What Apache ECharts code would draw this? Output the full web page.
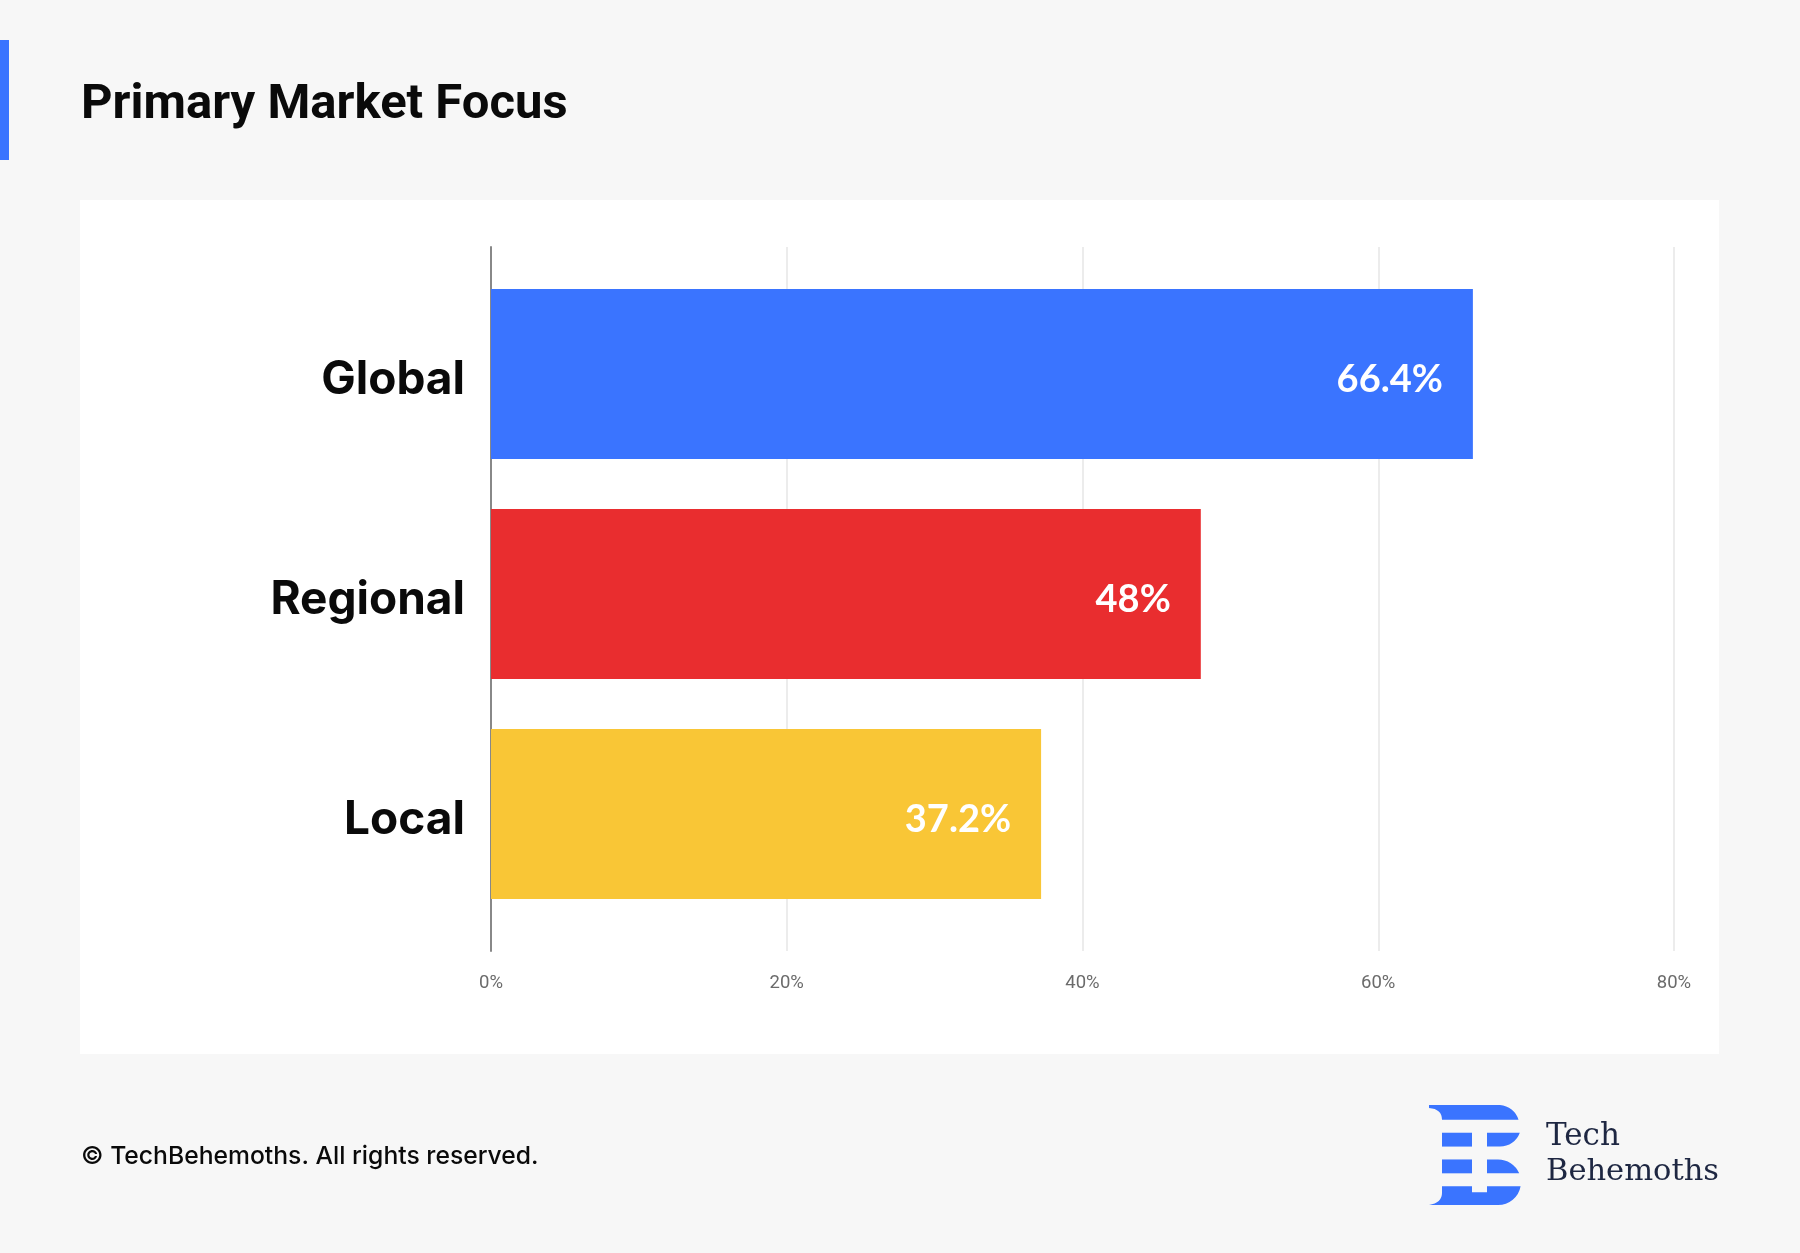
<!DOCTYPE html>
<html>
<head>
<meta charset="utf-8">
<title>Primary Market Focus</title>
<script src="https://cdn.jsdelivr.net/npm/echarts@6/dist/echarts.min.js"></script>
<style>
  html, body { margin: 0; padding: 0; background: #f7f7f7; }
  #grafico { width: 1800px; height: 1253px; }
</style>
</head>
<body>
<div id="grafico"></div>
<script>
// data
var categorias = ['Global', 'Regional', 'Local'];
var valores = [66.4, 48, 37.2];
var cores = ['#3a74ff', '#e92d2f', '#f9c636'];
var ticks_x = [0, 20, 40, 60, 80];

var myChart = echarts.init(document.getElementById('grafico'));

var dados_barras = [];
categorias.forEach(function (item, i) {
    dados_barras.push({
        value: valores[i],
        itemStyle: { color: cores[i] }
    });
});

// logo "B" feito de faixas (svg inline)
var logo_svg = '<svg xmlns="http://www.w3.org/2000/svg" width="93" height="101" viewBox="0 0 93 101"><g fill="#3a74ff">' +
    '<path d="M0,0 L71,0 A21,21 0 0 1 89.5,15 L13,15 Q13,4 0,3 Z"/>' +
    '<path d="M13,28 L43,28 L43,42 L13,42 Z"/>' +
    '<path d="M58,28 L90.8,28 A21,21 0 0 1 71,42 L58,42 Z"/>' +
    '<path d="M13,55 L43,55 L43,69 L13,69 Z"/>' +
    '<path d="M58,55 L69,55 A23,23 0 0 1 90.2,69 L58,69 Z"/>' +
    '<path d="M13,82 L43,82 L43,88 L58,88 L58,82 L91.6,82 A23,23 0 0 1 69,101 L0,101 Q13,99 13,89 Z"/>' +
    '</g></svg>';

var option = {
    backgroundColor: '#f7f7f7',
    animation: false,
    textStyle: { fontFamily: 'Inter, Roboto, sans-serif' },
    graphic: [
        { type: 'rect', z: -10, shape: { x: 80, y: 200, width: 1639, height: 854 }, style: { fill: '#ffffff' } },
        { type: 'rect', shape: { x: 0, y: 40, width: 9, height: 120 }, style: { fill: '#3a74ff' } },
        {
            type: 'text', x: 81, y: 106,
            style: {
                text: 'Primary Market Focus', fill: '#0a0a0a',
                font: 'bold 49px Roboto, sans-serif', textVerticalAlign: 'middle'
            }
        },
        {
            type: 'text', x: 81, y: 1157,
            style: {
                text: '© TechBehemoths. All rights reserved.', fill: '#0a0a0a',
                font: '500 24.7px Inter, sans-serif', textVerticalAlign: 'middle'
            }
        },
        {
            type: 'image', x: 1429, y: 1105,
            style: {
                image: 'data:image/svg+xml;charset=utf-8,' + encodeURIComponent(logo_svg),
                width: 93, height: 100
            }
        },
        {
            type: 'text', x: 1546, y: 1137,
            style: {
                text: 'Tech', fill: '#1e2742',
                font: '31px "DejaVu Serif", serif', textVerticalAlign: 'middle'
            }
        },
        {
            type: 'text', x: 1546, y: 1172,
            style: {
                text: 'Behemoths', fill: '#1e2742',
                font: '30.5px "DejaVu Serif", serif', textVerticalAlign: 'middle'
            }
        }
    ],
    grid: [
        { left: 491, right: 126, top: 247, bottom: 302 },
        { left: 491, right: 126, top: 264, bottom: 329 }
    ],
    xAxis: [
        {
            gridIndex: 0,
            type: 'value',
            min: ticks_x[0],
            max: ticks_x[ticks_x.length - 1],
            interval: 20,
            axisLine: { show: false },
            axisTick: { show: false },
            splitLine: { lineStyle: { color: '#ececec', width: 2 } },
            axisLabel: {
                formatter: '{value}%',
                color: '#6b6b6b',
                fontSize: 18.5,
                fontFamily: 'Roboto, sans-serif',
                margin: 23
            }
        },
        {
            gridIndex: 1,
            type: 'value',
            min: ticks_x[0],
            max: ticks_x[ticks_x.length - 1],
            show: false
        }
    ],
    yAxis: [
        {
            gridIndex: 0,
            type: 'category',
            data: categorias,
            axisLine: { show: true, lineStyle: { color: '#888888', width: 2 } },
            axisTick: { show: false },
            axisLabel: { show: false },
            splitLine: { show: false }
        },
        {
            gridIndex: 1,
            type: 'category',
            data: categorias,
            inverse: true,
            axisLine: { show: false },
            axisTick: { show: false },
            axisLabel: {
                formatter: '{v|{value}}',
                margin: 26,
                rich: {
                    v: {
                        color: '#0a0a0a',
                        fontSize: 46,
                        fontWeight: 'bold',
                        fontFamily: 'Inter, sans-serif',
                        padding: [12, 0, 0, 0]
                    }
                }
            }
        }
    ],
    series: [
        {
            type: 'bar',
            xAxisIndex: 1,
            yAxisIndex: 1,
            barWidth: 170,
            data: dados_barras,
            label: {
                show: true,
                position: 'insideRight',
                distance: 30,
                offset: [0, 6],
                formatter: '{c}%',
                color: '#ffffff',
                fontSize: 38,
                fontWeight: 'bold',
                fontFamily: 'Lato, sans-serif'
            }
        }
    ]
};

myChart.setOption(option);
</script>
</body>
</html>
